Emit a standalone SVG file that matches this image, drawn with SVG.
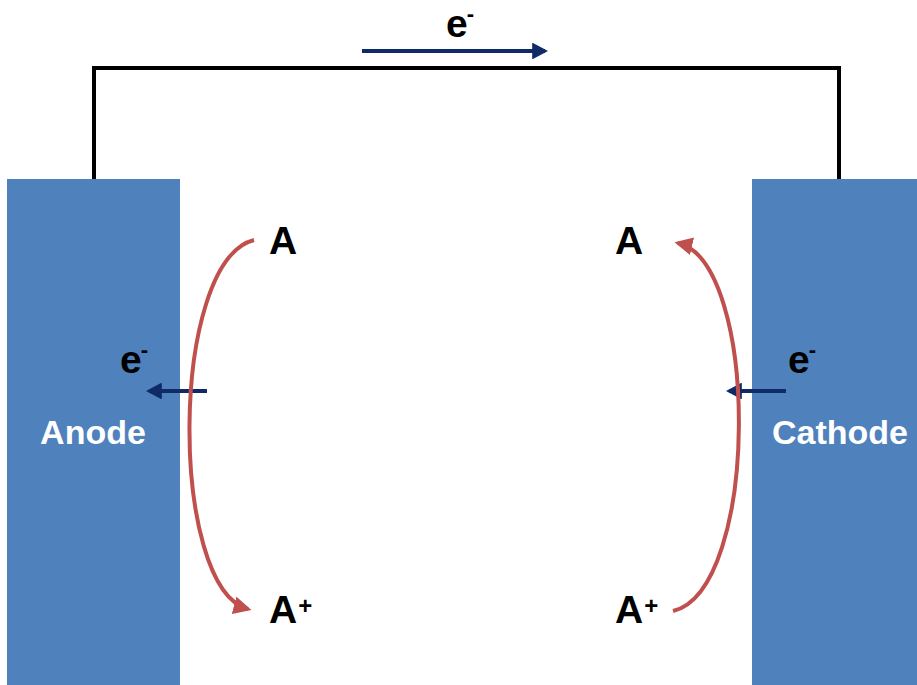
<svg xmlns="http://www.w3.org/2000/svg" width="917" height="685" viewBox="0 0 917 685">
<style>
.t{font-family:"Liberation Sans",Arial,sans-serif;font-weight:bold;font-size:39px;fill:#000}
.w{font-family:"Liberation Sans",Arial,sans-serif;font-weight:bold;font-size:34px;fill:#fff;text-anchor:middle}
.sm{font-size:22px}
.pl{font-size:24px}
.red{fill:none;stroke:#c0504d;stroke-width:4}
.blue{fill:none;stroke:#0f2a66;stroke-width:4}
.el{fill:#4f81bd}
</style>
<defs>
<marker id="rh" viewBox="0 0 10 10" refX="8" refY="5" markerWidth="4.5" markerHeight="4.5" orient="auto" markerUnits="strokeWidth"><path d="M0,0 L10,5 L0,10 z" fill="#c0504d"/></marker>
<marker id="bh" viewBox="0 0 10 10" refX="8" refY="5" markerWidth="4" markerHeight="4.2" orient="auto" markerUnits="strokeWidth" preserveAspectRatio="none"><path d="M0,0 L10,5 L0,10 z" fill="#0f2a66"/></marker>
</defs>
<g id="anode"><rect class="el" x="7" y="179" width="173" height="506"/><text class="w" x="93" y="444">Anode</text></g>
<g id="cathode"><rect class="el" x="752" y="179" width="165" height="506"/><text class="w" x="840" y="444">Cathode</text></g>
<g id="labels">
<text class="t" x="446" y="37">e<tspan class="sm" dx="-1" dy="-16">-</tspan></text>
<text class="t" x="120" y="373">e<tspan class="sm" dx="-1" dy="-16">-</tspan></text>
<text class="t" x="788" y="373">e<tspan class="sm" dx="-1" dy="-16">-</tspan></text>
<text class="t" x="269" y="254">A</text>
<text class="t" x="615" y="254">A</text>
<text class="t" x="269" y="623">A<tspan class="pl" dx="1" dy="-9">+</tspan></text>
<text class="t" x="615" y="623">A<tspan class="pl" dx="1" dy="-9">+</tspan></text>
</g>
<g id="connectors">
<path d="M94,179 V68 H839 V179" fill="none" stroke="#000" stroke-width="4"/>
<path class="blue" d="M362,51 H545" marker-end="url(#bh)"/>
<path class="blue" d="M207,391 H149" marker-end="url(#bh)"/>
<path class="blue" d="M786,391 H729" marker-end="url(#bh)"/>
<path class="red" d="M254,240 C169,262 169,588 248,609" marker-end="url(#rh)"/>
<path class="red" d="M673,611 C760,590 760,262 678,243" marker-end="url(#rh)"/>
</g>
</svg>
